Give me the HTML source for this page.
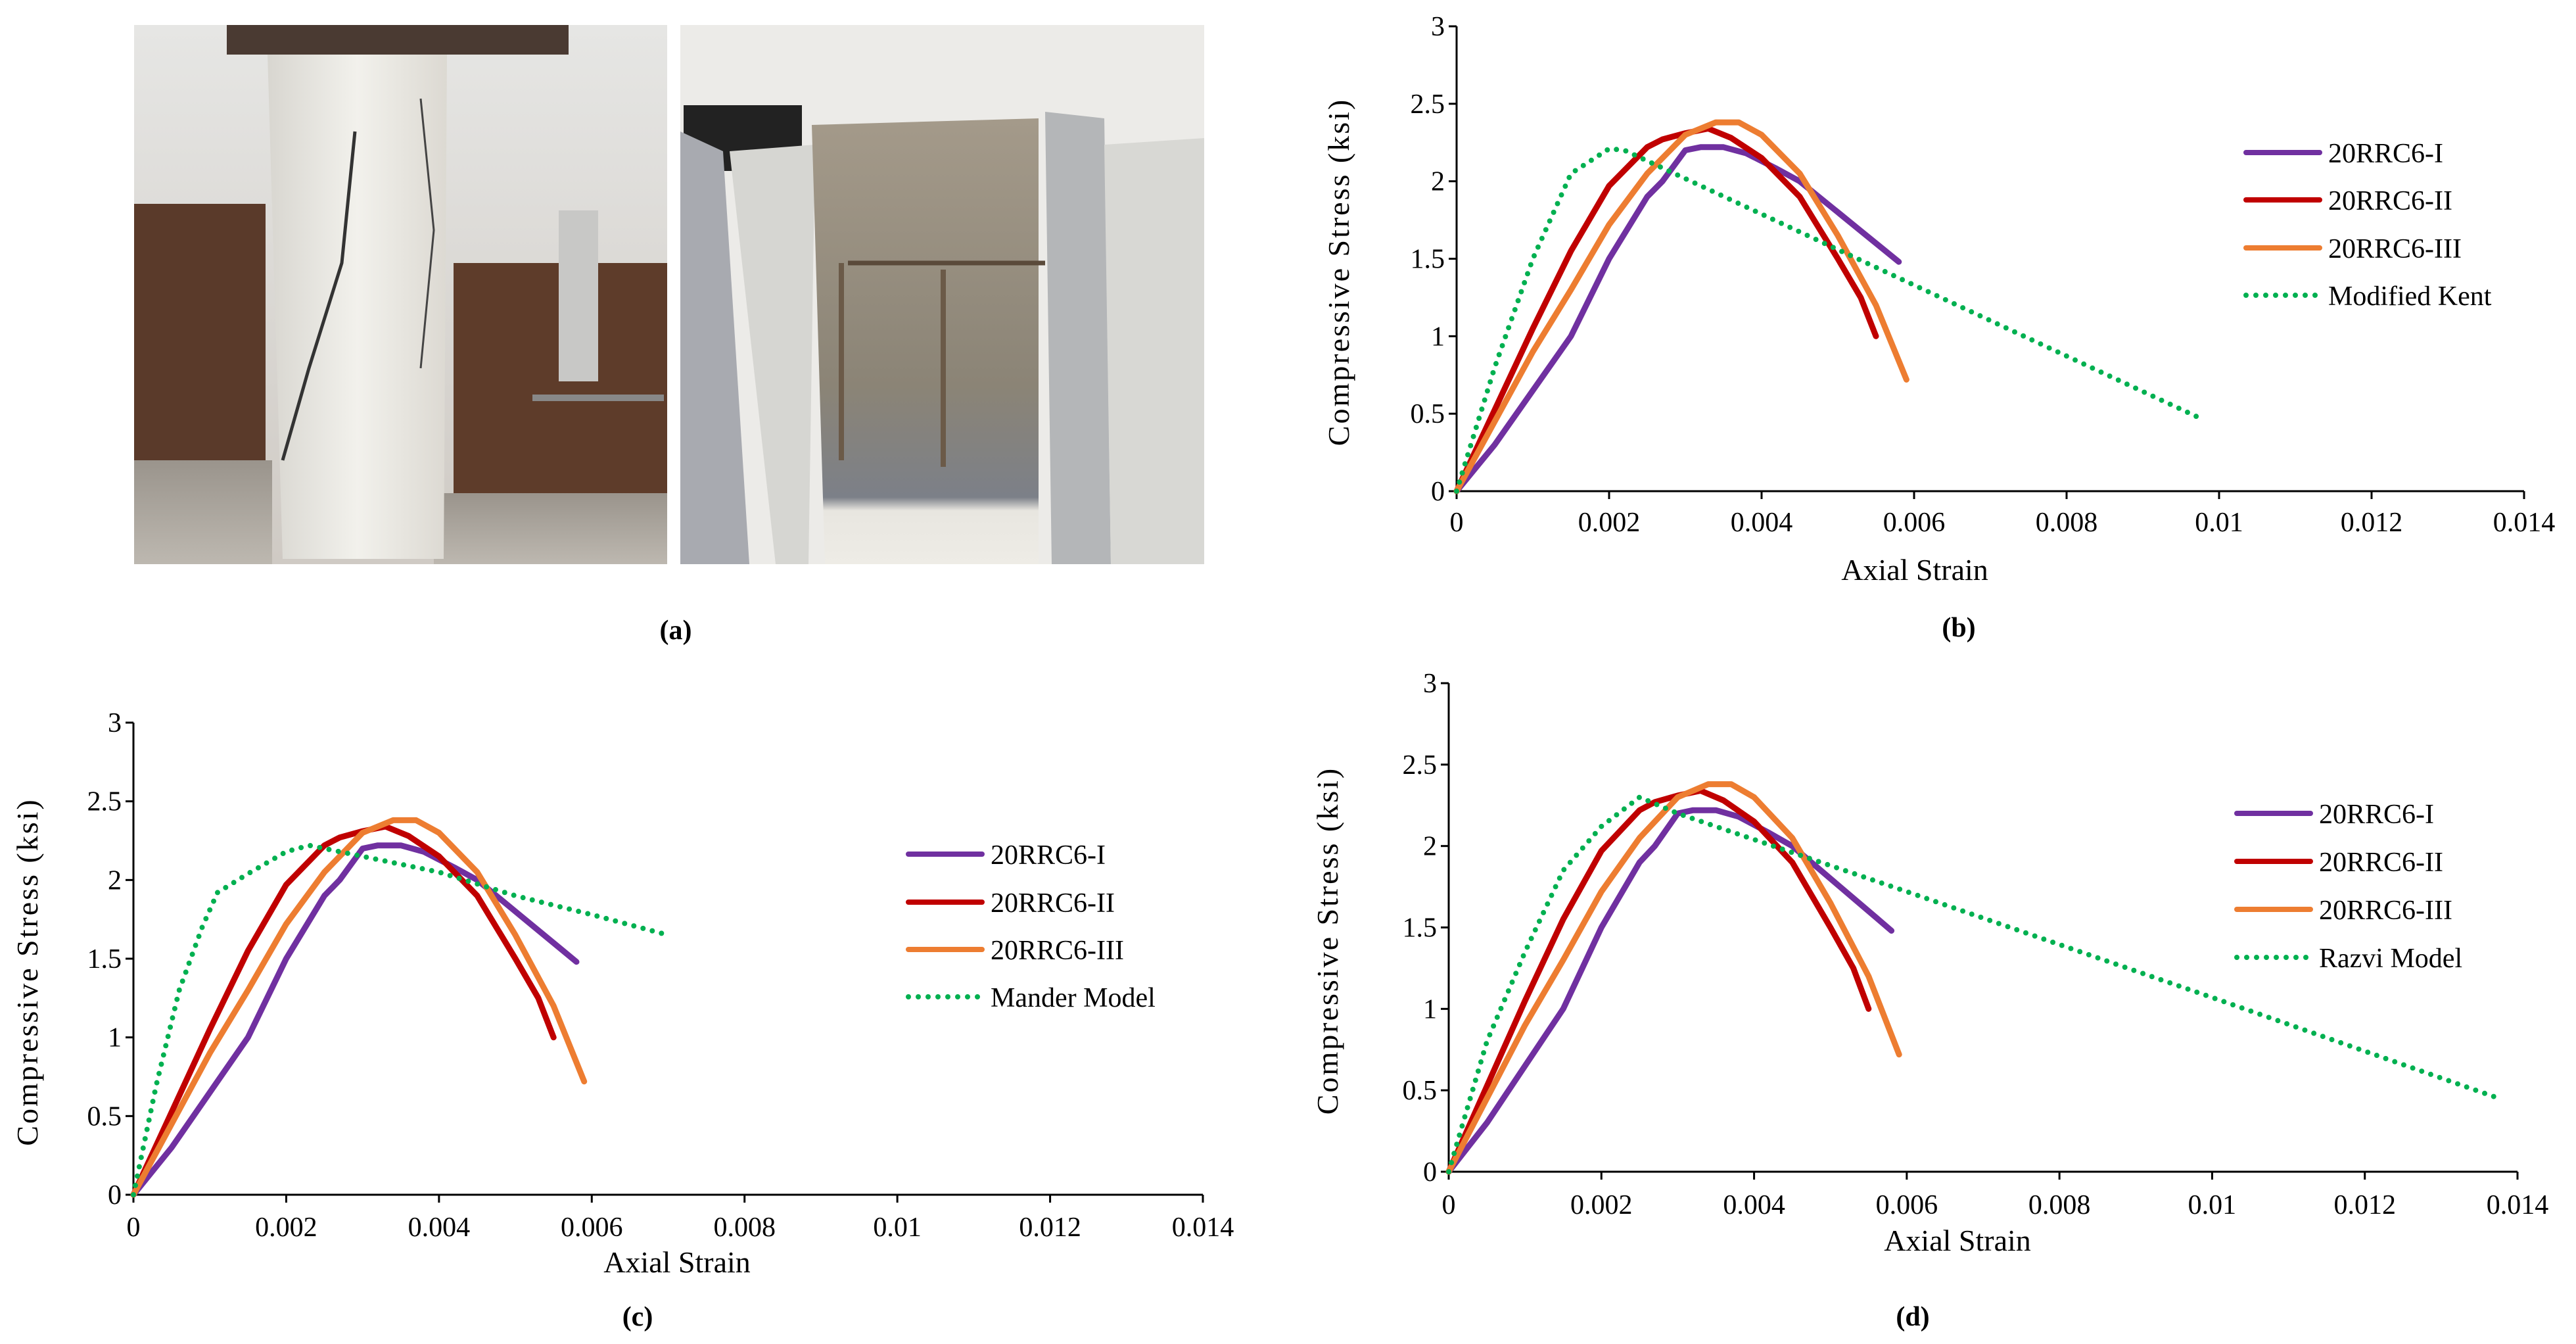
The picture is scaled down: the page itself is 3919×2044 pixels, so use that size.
<!DOCTYPE html>
<html><head><meta charset="utf-8">
<style>
html,body{margin:0;padding:0;background:#fff;}
svg{display:block;}
text{font-family:"Liberation Serif",serif;fill:#000;}
</style></head>
<body>
<svg id="root" width="3919" height="2044" viewBox="0 0 3919 2044" xmlns="http://www.w3.org/2000/svg">
<defs>
<linearGradient id="wall" x1="0" y1="0" x2="0" y2="1"><stop offset="0" stop-color="#e6e6e4"/><stop offset="1" stop-color="#cfcac4"/></linearGradient>
<linearGradient id="floor" x1="0" y1="0" x2="0" y2="1"><stop offset="0" stop-color="#9a948c"/><stop offset="1" stop-color="#bdb8b0"/></linearGradient>
<linearGradient id="col" x1="0" y1="0" x2="1" y2="0"><stop offset="0" stop-color="#d8d6d0"/><stop offset="0.5" stop-color="#f2f1ec"/><stop offset="1" stop-color="#dcd9d2"/></linearGradient>
<linearGradient id="core" x1="0" y1="0" x2="0" y2="1"><stop offset="0" stop-color="#a49a8a"/><stop offset="0.6" stop-color="#8b8476"/><stop offset="0.85" stop-color="#7c8088"/><stop offset="0.88" stop-color="#e8e6e0"/><stop offset="1" stop-color="#eeece6"/></linearGradient>
</defs>
<g>
<rect x="204" y="38" width="811" height="820" fill="url(#wall)"/>
<rect x="204" y="310" width="200" height="420" fill="#5a3a2a"/>
<rect x="690" y="400" width="325" height="400" fill="#5e3c2a"/>
<rect x="204" y="700" width="210" height="158" fill="url(#floor)"/>
<rect x="660" y="750" width="355" height="108" fill="url(#floor)"/>
<rect x="345" y="38" width="520" height="45" fill="#4a3a32"/>
<polygon points="407,83 680,83 675,850 430,850" fill="url(#col)"/>
<path d="M540,200 L520,400 L470,560 L430,700" stroke="#333" stroke-width="5" fill="none"/>
<path d="M640,150 L660,350 L640,560" stroke="#444" stroke-width="3" fill="none"/>
<rect x="850" y="320" width="60" height="260" fill="#c8c8c6"/>
<rect x="810" y="600" width="200" height="10" fill="#888"/>
</g>
<g>
<rect x="1035" y="38" width="797" height="820" fill="#ecebe8"/>
<rect x="1040" y="160" width="180" height="100" fill="#222"/>
<polygon points="1035,200 1100,230 1140,858 1035,858" fill="#a8aab0"/>
<polygon points="1110,230 1240,220 1230,858 1180,858" fill="#d6d6d2"/>
<polygon points="1235,190 1580,180 1580,858 1255,858" fill="url(#core)"/>
<polygon points="1590,170 1680,180 1690,858 1600,858" fill="#b4b6b8"/>
<polygon points="1680,220 1832,210 1832,858 1690,858" fill="#d8d8d4"/>
<line x1="1280" y1="400" x2="1280" y2="700" stroke="#6b5a48" stroke-width="8"/>
<line x1="1435" y1="410" x2="1435" y2="710" stroke="#6b5a48" stroke-width="8"/>
<line x1="1290" y1="400" x2="1590" y2="400" stroke="#5a4a3a" stroke-width="7"/>
</g>
<text x="1028" y="972" font-size="42" font-weight="bold" text-anchor="middle">(a)</text>
<g id="charts"></g>
</svg>
<script>
const stressTicks = [0, 0.5, 1, 1.5, 2, 2.5, 3];
const strainTicks = [0, 0.002, 0.004, 0.006, 0.008, 0.01, 0.012, 0.014];
const strainTickLabels = ["0", "0.002", "0.004", "0.006", "0.008", "0.01", "0.012", "0.014"];
const seriesNames = ["20RRC6-I", "20RRC6-II", "20RRC6-III"];
const s1Strain = [0, 0.0005, 0.001, 0.0015, 0.002, 0.0025, 0.0027, 0.003, 0.0032, 0.0035, 0.0038, 0.0042, 0.0045, 0.005, 0.0053, 0.0056, 0.0058];
const s1Stress = [0, 0.3, 0.65, 1.0, 1.5, 1.9, 2.0, 2.2, 2.22, 2.22, 2.18, 2.08, 2.0, 1.8, 1.68, 1.56, 1.48];
const s2Strain = [0, 0.001, 0.0015, 0.002, 0.0025, 0.0027, 0.003, 0.0033, 0.0036, 0.004, 0.0045, 0.005, 0.0053, 0.0055];
const s2Stress = [0, 1.05, 1.55, 1.97, 2.22, 2.27, 2.31, 2.34, 2.28, 2.15, 1.9, 1.5, 1.25, 1.0];
const s3Strain = [0, 0.001, 0.0015, 0.002, 0.0025, 0.003, 0.0034, 0.0037, 0.004, 0.0045, 0.005, 0.0055, 0.0059];
const s3Stress = [0, 0.9, 1.3, 1.72, 2.05, 2.3, 2.38, 2.38, 2.3, 2.05, 1.65, 1.2, 0.72];
const kentStrain = [0, 0.0005, 0.001, 0.0015, 0.002, 0.0022, 0.006, 0.0098];
const kentStress = [0, 0.8, 1.5, 2.05, 2.21, 2.2, 1.33, 0.46];
const manderStrain = [0, 0.0003, 0.0006, 0.0009, 0.0011, 0.0015, 0.002, 0.0023, 0.003, 0.004, 0.005, 0.006, 0.007];
const manderStress = [0, 0.7, 1.3, 1.7, 1.92, 2.04, 2.18, 2.22, 2.15, 2.05, 1.9, 1.78, 1.65];
const razviStrain = [0, 0.0005, 0.001, 0.0015, 0.002, 0.0025, 0.003, 0.004, 0.006, 0.01, 0.0137];
const razviStress = [0, 0.8, 1.35, 1.85, 2.12, 2.3, 2.2, 2.04, 1.72, 1.07, 0.46];

const NS = "http://www.w3.org/2000/svg";
const colors = ["#7030A0", "#C00000", "#ED7D31"];
function mk(tag, attrs, parent) {
  const e = document.createElementNS(NS, tag);
  for (const k in attrs) e.setAttribute(k, attrs[k]);
  parent.appendChild(e);
  return e;
}
const panels = [
  {id:"b", x0:2216, x1:3840, y0:747, y1:40, tickY:808, axY:882, axX:2913, labX:2980, labY:968, titleX:2036, legX:3417, legY:[232,304,377,449], model:"Modified Kent", ms:kentStrain, mv:kentStress},
  {id:"c", x0:203, x1:1830, y0:1817, y1:1099, tickY:1880, axY:1935, axX:1030, labX:970, labY:2016, titleX:41, legX:1382, legY:[1299,1372,1444,1516], model:"Mander Model", ms:manderStrain, mv:manderStress},
  {id:"d", x0:2204, x1:3830, y0:1782, y1:1039, tickY:1846, axY:1902, axX:2978, labX:2910, labY:2016, titleX:2019, legX:3403, legY:[1237,1310,1383,1456], model:"Razvi Model", ms:razviStrain, mv:razviStress}
];
const root = document.getElementById("charts");
panels.forEach(p => {
  const g = mk("g", {}, root);
  
  
  const sx = v => p.x0 + (v / 0.014) * (p.x1 - p.x0);
  const sy = v => p.y0 - (v / 3) * (p.y0 - p.y1);
  const ya = mk("line", {x1:p.x0, y1:p.y0, x2:p.x0, y2:p.y1, stroke:"#000", "stroke-width":3}, g);
  
  
  const xa = mk("line", {x1:p.x0 - 12, y1:p.y0, x2:p.x1, y2:p.y0, stroke:"#000", "stroke-width":3}, g);
  
  
  stressTicks.forEach(t => {
    mk("line", {x1:p.x0 - 12, y1:sy(t), x2:p.x0, y2:sy(t), stroke:"#000", "stroke-width":3}, g);
    const tx = mk("text", {x:p.x0 - 18, y:sy(t) + 14, "font-size":42, "text-anchor":"end"}, g);
    
    
    tx.textContent = String(t);
  });
  strainTicks.forEach((t, i) => {
    mk("line", {x1:sx(t), y1:p.y0, x2:sx(t), y2:p.y0 + 12, stroke:"#000", "stroke-width":3}, g);
    const tx = mk("text", {x:sx(t), y:p.tickY, "font-size":42, "text-anchor":"middle"}, g);
    
    
    tx.textContent = strainTickLabels[i];
  });
  const axT = mk("text", {x:p.axX, y:p.axY, "font-size":46, "text-anchor":"middle"}, g);
  
  
  axT.textContent = "Axial Strain";
  const yT = mk("text", {x:0, y:0, "font-size":46, "letter-spacing":"3", "text-anchor":"middle", transform:`translate(${p.titleX + 16},${(p.y0 + p.y1) / 2 + 20}) rotate(-90)`}, g);
  
  
  yT.textContent = "Compressive Stress (ksi)";
  const lab = mk("text", {x:p.labX, y:p.labY, "font-size":42, "font-weight":"bold", "text-anchor":"middle"}, g);
  
  
  lab.textContent = "(" + p.id + ")";
  const sets = [[s1Strain, s1Stress], [s2Strain, s2Stress], [s3Strain, s3Stress]];
  sets.forEach((s, i) => {
    const d = s[0].map((v, j) => (j ? "L" : "M") + sx(v).toFixed(1) + "," + sy(s[1][j]).toFixed(1)).join(" ");
    const pa = mk("path", {d:d, fill:"none", stroke:colors[i], "stroke-width":9, "stroke-linejoin":"round", "stroke-linecap":"round"}, g);
    
    
  });
  const md = p.ms.map((v, j) => (j ? "L" : "M") + sx(v).toFixed(1) + "," + sy(p.mv[j]).toFixed(1)).join(" ");
  const mp = mk("path", {d:md, fill:"none", stroke:"#00B050", "stroke-width":8, "stroke-dasharray":"0 14.5", "stroke-linecap":"round"}, g);
  
  
  const names = seriesNames.concat([p.model]);
  names.forEach((n, i) => {
    const ly = p.legY[i];
    const le = mk("g", {}, g);
    
    
    if (i < 3) mk("line", {x1:p.legX, y1:ly, x2:p.legX + 112, y2:ly, stroke:colors[i], "stroke-width":8, "stroke-linecap":"round"}, le);
    else mk("line", {x1:p.legX, y1:ly, x2:p.legX + 110, y2:ly, stroke:"#00B050", "stroke-width":8, "stroke-dasharray":"0 15", "stroke-linecap":"round"}, le);
    const t = mk("text", {x:p.legX + 125, y:ly + 15, "font-size":42}, le);
    t.textContent = n;
  });
});
</script>
</body></html>
